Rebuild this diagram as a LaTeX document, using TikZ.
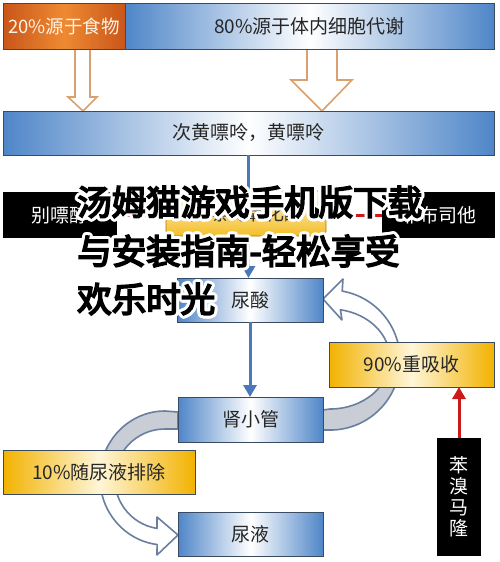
\documentclass[tikz,border=0pt]{standalone}
\usepackage{fontspec}
\setmainfont{Noto Sans CJK SC}
\newfontfamily\titlefont[AutoFakeBold=5]{Noto Sans CJK SC}
\usetikzlibrary{arrows.meta,calc}
\definecolor{boxblue}{HTML}{4F86C8}
\definecolor{edgegray}{HTML}{3A4A60}
\definecolor{gold}{HTML}{F2B200}
\definecolor{paleyel}{HTML}{FFF6D8}
\definecolor{orgA}{HTML}{C9561A}
\definecolor{orgB}{HTML}{EE8A32}
\definecolor{tanline}{HTML}{D9A070}
\definecolor{arrblue}{HTML}{4A78B8}
\definecolor{bandedge}{HTML}{6A7FA0}
\definecolor{bandfill}{HTML}{C9CDD6}
\definecolor{inhred}{HTML}{CC1A1A}
\tikzset{
  basebox/.style={inner sep=0pt, outer sep=0pt, font=\fontsize{19}{21}\selectfont},
  bluebox/.style={basebox, draw=edgegray, line width=0.8pt, left color=boxblue, right color=boxblue, middle color=white, text=black!85},
  yelbox/.style={basebox, draw=edgegray, line width=0.8pt, left color=gold, right color=gold, middle color=paleyel, text=black!85},
  orgbox/.style={basebox, draw=edgegray, line width=0.8pt, left color=orgA, right color=orgA, middle color=orgB, text=white!90!orange},
  blackbox/.style={basebox, fill=black, text=white},
  hollow/.style={draw=tanline, line width=1.6pt, fill=white, line join=miter},
  band/.style={draw=bandedge, line width=1.6pt, line join=round},
  bluearr/.style={draw=arrblue, line width=3pt, -{Triangle[length=12pt,width=13pt]}},
  redarr/.style={draw=inhred, line width=3pt, -{Triangle[length=12pt,width=13pt]}},
  redline/.style={draw=inhred, line width=3pt},
  titletext/.style={anchor=west, inner sep=0pt, font=\titlefont\bfseries\fontsize{34.5}{36}\selectfont}
}
\def\rightband{(323,410) -- (330,409) arc[start angle=90, end angle=-80, x radius=60, y radius=50] -- (342,320) -- (323,299) -- (343,279) -- (342.2,291.1) arc[start angle=-80, end angle=90, x radius=70, y radius=70] -- (323,430) -- cycle}
\def\leftband{(178,412) -- (165,411) arc[start angle=-90, end angle=-263, x radius=65, y radius=67] -- (157,555) -- (178,535) -- (157,517) -- (157,528.4) arc[start angle=-261, end angle=-90, x radius=50, y radius=50] -- (178,429) -- cycle}
\begin{document}
\begin{tikzpicture}[x=1pt,y=-1pt]
\useasboundingbox (0,0) rectangle (500,562);
\fill[white] (0,0) rectangle (500,562);

% curved bands (behind boxes)
\fill[white] \rightband;
\begin{scope}
  \clip (300,365) rectangle (420,445);
  \fill[bandfill] \rightband;
\end{scope}
\draw[band] \rightband;
\fill[white] \leftband;
\begin{scope}
  \clip (80,400) rectangle (185,450);
  \fill[bandfill] \leftband;
\end{scope}
\draw[band] \leftband;

% top hollow arrows
\draw[hollow] (75,49) -- (75,97) -- (68,97) -- (83,111) -- (97,97) -- (90,97) -- (90,49);
\draw[hollow] (307,49) -- (307,80) -- (291,80) -- (322,111) -- (352,80) -- (337,80) -- (337,49);

% nodes
\node[orgbox, minimum width=122pt, minimum height=46pt, font=\fontsize{18.5}{21}\selectfont] (food) at (64,26) {20\%源于食物};
\node[bluebox, minimum width=369pt, minimum height=46pt] (cell) at (309.5,26) {80\%源于体内细胞代谢};
\node[bluebox, minimum width=491pt, minimum height=44pt] (xan) at (248.5,133) {次黄嘌呤，黄嘌呤};
\node[blackbox, minimum width=114pt, minimum height=46pt] (bie) at (60,215) {别嘌醇};
\node[blackbox, minimum width=113pt, minimum height=46pt] (feibu) at (438.5,215) {非布司他};
\node[bluebox, minimum width=146pt, minimum height=44pt] (uric) at (250,300) {尿酸};
\node[yelbox, minimum width=165pt, minimum height=45pt] (reab) at (411.5,364.5) {90\%重吸收};
\node[bluebox, minimum width=145pt, minimum height=45pt] (tub) at (250.5,419.5) {肾小管};
\node[yelbox, minimum width=192pt, minimum height=44pt] (excr) at (99,472) {10\%随尿液排除};
\node[bluebox, minimum width=145pt, minimum height=44pt] (urine) at (250.5,534) {尿液};
\node[blackbox, minimum width=44pt, minimum height=118pt, align=center, font=\fontsize{19}{21}\selectfont] (benz) at (459,497) {苯\\溴\\马\\隆};

% connectors
\draw[bluearr] (xan.south) -- (xan.south |- uric.north);
\draw[redline] (bie.east) -- (feibu.west);
\node[basebox, draw=gold!70!black, line width=0.8pt, rounded corners=5pt, top color=paleyel, bottom color=gold!85, text=black!80, minimum width=160pt, minimum height=45pt] (enz) at (246,213.5) {黄嘌呤氧化酶};
\draw[bluearr] (uric.south) -- (uric.south |- tub.north);
\draw[redarr] (benz.north) -- (benz.north |- reab.south);

% overlay title
\foreach \a [count=\k] in {0,22.5,...,337.5} {
  \node[titletext, text=white] (haloA\k) at ($(77,202)+(\a:3)$) {汤姆猫游戏手机版下载};
  \node[titletext, text=white] (haloB\k) at ($(77,251)+(\a:3)$) {与安装指南-轻松享受};
  \node[titletext, text=white] (haloC\k) at ($(77,299)+(\a:3)$) {欢乐时光};
}
\node[titletext, text=black] (titleA) at (77,202) {汤姆猫游戏手机版下载};
\node[titletext, text=black] (titleB) at (77,251) {与安装指南-轻松享受};
\node[titletext, text=black] (titleC) at (77,299) {欢乐时光};
\end{tikzpicture}
\end{document}
